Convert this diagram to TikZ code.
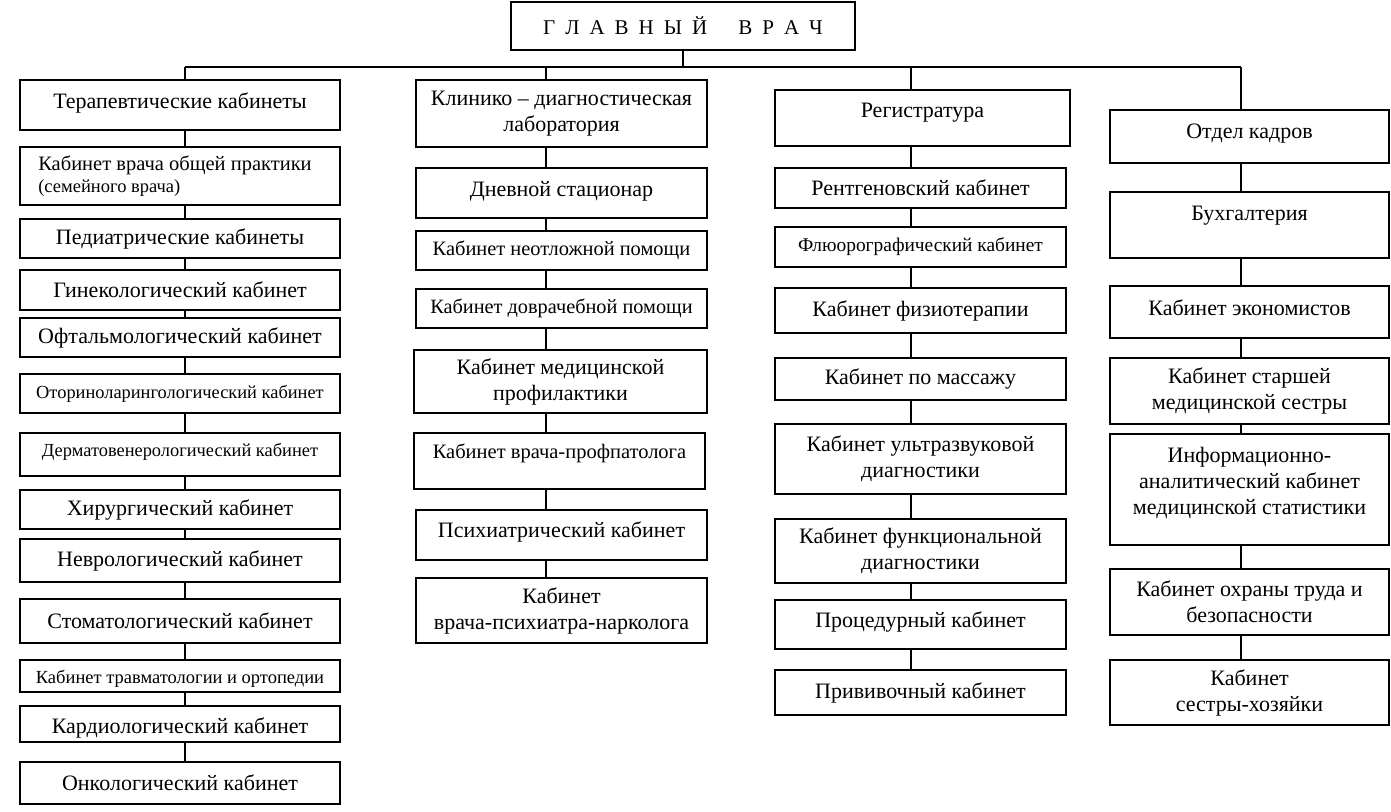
\documentclass[tikz,border=0pt]{standalone}
\usepackage{fontspec}
\setmainfont{Liberation Serif}
\newcommand\fz[1]{\fontsize{#1}{26}\selectfont}
\newcommand\ls{\hspace{10pt}}
\begin{document}
\begin{tikzpicture}[x=1pt,y=-1pt,
  bx/.style={draw, line width=1.3pt, inner sep=0pt, align=center, font=\fz{22}},
  up/.style={text depth=#1},
  dn/.style={text height=#1},
  ln/.style={line width=1.3pt}]
\useasboundingbox (0,0) rectangle (1391,811);
% title
\node[bx, font=\fz{21}, minimum width=344pt, minimum height=48pt] (top) at (683,26) {Г\ls Л\ls А\ls В\ls Н\ls Ы\ls Й\hspace{31pt}В\ls Р\ls А\ls Ч};
\coordinate (hb) at (683,67);
\coordinate (k1) at (185,67);
\coordinate (k2) at (546,67);
\coordinate (k3) at (911,67);
\coordinate (k4) at (1241,67);
% column 1
\node[bx, up=9pt, minimum width=320pt, minimum height=50pt] (c1) at (180,105) {Терапевтические кабинеты};
\node[bx, align=left, minimum width=320pt, minimum height=58pt] (c2) at (180,176) {\hspace*{-10pt}{\fz{20.5}Кабинет врача общей практики}\\[-4pt]\hspace*{-10pt}{\fz{18.5}(семейного врача)}\hspace{100pt}};
\node[bx, minimum width=320pt, minimum height=39pt] (c3) at (180,238.5) {Педиатрические кабинеты};
\node[bx, minimum width=320pt, minimum height=40pt] (c4) at (180,290) {Гинекологический кабинет};
\node[bx, minimum width=320pt, minimum height=39pt] (c5) at (180,337.5) {Офтальмологический кабинет};
\node[bx, font=\fz{18.4}, minimum width=320pt, minimum height=39pt] (c6) at (180,393.5) {Оториноларингологический кабинет};
\node[bx, font=\fz{18.4}, up=10pt, minimum width=320pt, minimum height=43pt] (c7) at (180,454.5) {Дерматовенерологический кабинет};
\node[bx, minimum width=320pt, minimum height=39pt] (c8) at (180,509.5) {Хирургический кабинет};
\node[bx, minimum width=320pt, minimum height=43pt] (c9) at (180,560.5) {Неврологический кабинет};
\node[bx, minimum width=320pt, minimum height=44pt] (c10) at (180,621) {Стоматологический кабинет};
\node[bx, font=\fz{18.5}, dn=19pt, minimum width=320pt, minimum height=32pt] (c11) at (180,676) {Кабинет травматологии и ортопедии};
\node[bx, dn=23pt, minimum width=320pt, minimum height=36pt] (c12) at (180,724) {Кардиологический кабинет};
\node[bx, minimum width=320pt, minimum height=42pt] (c13) at (180,783) {Онкологический кабинет};
% column 2
\node[bx, minimum width=291pt, minimum height=67pt] (d1) at (561.5,113.5) {Клинико – диагностическая\\лаборатория};
\node[bx, up=9pt, minimum width=291pt, minimum height=50pt] (d2) at (561.5,193) {Дневной стационар};
\node[bx, font=\fz{20.4}, minimum width=291pt, minimum height=39pt] (d3) at (561.5,250.5) {Кабинет неотложной помощи};
\node[bx, font=\fz{20.3}, minimum width=291pt, minimum height=39pt] (d4) at (561.5,308.5) {Кабинет доврачебной помощи};
\node[bx, minimum width=293pt, minimum height=63pt] (d5) at (560.5,381.5) {Кабинет медицинской\\профилактики};
\node[bx, font=\fz{20.5}, up=19pt, minimum width=291pt, minimum height=56pt] (d6) at (559.5,461) {Кабинет врача-профпатолога};
\node[bx, up=10pt, minimum width=291pt, minimum height=50pt] (d7) at (561.5,535) {Психиатрический кабинет};
\node[bx, minimum width=291pt, minimum height=65pt] (d8) at (561.5,610.5) {Кабинет\\врача-психиатра-нарколога};
% column 3
\node[bx, up=15pt, minimum width=295pt, minimum height=56pt] (e1) at (922.5,118) {Регистратура};
\node[bx, minimum width=291pt, minimum height=40pt] (e2) at (920.5,188) {Рентгеновский кабинет};
\node[bx, font=\fz{19.4}, minimum width=291pt, minimum height=40pt] (e3) at (920.5,247) {Флюорографический кабинет};
\node[bx, minimum width=291pt, minimum height=45pt] (e4) at (920.5,310.5) {Кабинет физиотерапии};
\node[bx, minimum width=291pt, minimum height=42pt] (e5) at (920.5,379) {Кабинет по массажу};
\node[bx, minimum width=291pt, minimum height=70pt] (e6) at (920.5,459) {Кабинет ультразвуковой\\диагностики};
\node[bx, minimum width=291pt, minimum height=64pt] (e7) at (920.5,551) {Кабинет функциональной\\диагностики};
\node[bx, up=9pt, minimum width=291pt, minimum height=49pt] (e8) at (920.5,624.5) {Процедурный кабинет};
\node[bx, minimum width=291pt, minimum height=45pt] (e9) at (920.5,692.5) {Прививочный кабинет};
% column 4
\node[bx, up=11pt, minimum width=279pt, minimum height=53pt] (f1) at (1249.5,136.5) {Отдел кадров};
\node[bx, up=23pt, minimum width=279pt, minimum height=66pt] (f2) at (1249.5,225) {Бухгалтерия};
\node[bx, up=9pt, minimum width=279pt, minimum height=52pt] (f3) at (1249.5,312) {Кабинет экономистов};
\node[bx, minimum width=279pt, minimum height=66pt] (f4) at (1249.5,391) {Кабинет старшей\\медицинской сестры};
\node[bx, up=17pt, minimum width=279pt, minimum height=111pt] (f5) at (1249.5,489.5) {Информационно-\\аналитический кабинет\\медицинской статистики};
\node[bx, minimum width=279pt, minimum height=66pt] (f6) at (1249.5,602) {Кабинет охраны труда и\\безопасности};
\node[bx, minimum width=279pt, minimum height=65pt] (f7) at (1249.5,692.5) {Кабинет\\сестры-хозяйки};
% connectors
\draw[ln] (top.south) -- (hb);
\draw[ln] (k1) -- (k4);
\draw[ln] (k1) -- (k1 |- c1.north);
\draw[ln] (k2) -- (k2 |- d1.north);
\draw[ln] (k3) -- (k3 |- e1.north);
\draw[ln] (k4) -- (k4 |- f1.north);
\foreach \a/\b in {c1/c2,c2/c3,c3/c4,c4/c5,c5/c6,c6/c7,c7/c8,c8/c9,c9/c10,c10/c11,c11/c12,c12/c13}
  \draw[ln] (\a.south -| k1) -- (\b.north -| k1);
\foreach \a/\b in {d1/d2,d2/d3,d3/d4,d4/d5,d5/d6,d6/d7,d7/d8}
  \draw[ln] (\a.south -| k2) -- (\b.north -| k2);
\foreach \a/\b in {e1/e2,e2/e3,e3/e4,e4/e5,e5/e6,e6/e7,e7/e8,e8/e9}
  \draw[ln] (\a.south -| k3) -- (\b.north -| k3);
\foreach \a/\b in {f1/f2,f2/f3,f3/f4,f4/f5,f5/f6,f6/f7}
  \draw[ln] (\a.south -| k4) -- (\b.north -| k4);
\end{tikzpicture}
\end{document}
